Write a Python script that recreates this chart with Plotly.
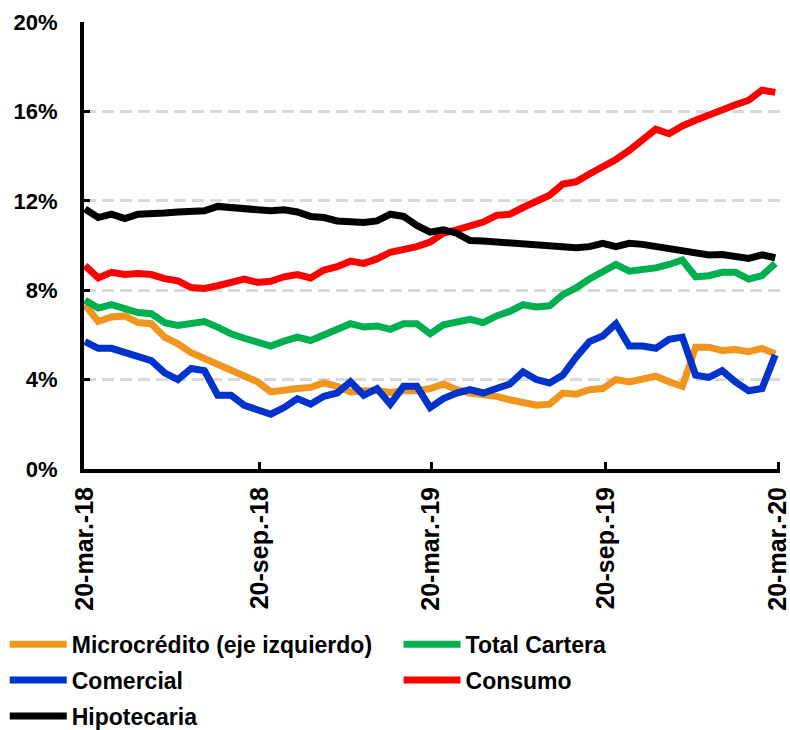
import pandas as pd
import plotly.graph_objects as go

# Biweekly observation dates, 20-mar-2018 .. 17-mar-2020
dates = pd.date_range("2018-03-20", periods=53, freq="14D")

microcredito = [7.35, 6.6, 6.8, 6.85, 6.55, 6.5, 5.9, 5.6, 5.2, 4.95, 4.7, 4.4, 4.15, 3.9,
                3.45, 3.55, 3.6, 3.65, 3.85, 3.7, 3.45, 3.5, 3.5, 3.42, 3.5, 3.5, 3.6,
                3.8, 3.55, 3.4, 3.35, 3.25, 3.1, 3.0, 2.85, 2.9, 3.4, 3.35, 3.55,
                3.6, 4.0, 3.9, 4.05, 4.15, 3.9, 3.7, 5.45, 5.45, 5.3, 5.35, 5.25, 5.4, 5.15]
total_cartera = [7.55, 7.2, 7.35, 7.2, 7.0, 6.95, 6.55, 6.42, 6.55, 6.6, 6.35, 6.05, 5.85, 5.65,
                 5.5, 5.72, 5.9, 5.75, 5.98, 6.2, 6.5, 6.35, 6.4, 6.25, 6.5, 6.5, 6.05,
                 6.45, 6.6, 6.7, 6.55, 6.85, 7.05, 7.35, 7.25, 7.3, 7.8, 8.1, 8.5,
                 8.8, 9.15, 8.85, 8.9, 9.0, 9.15, 9.35, 8.6, 8.65, 8.8, 8.8, 8.5, 8.65, 9.2]
comercial = [5.7, 5.4, 5.4, 5.2, 5.0, 4.85, 4.3, 4.0, 4.5, 4.4, 3.3, 3.3, 2.85, 2.65,
             2.45, 2.75, 3.15, 2.9, 3.25, 3.4, 3.9, 3.3, 3.6, 2.9, 3.7, 3.7, 2.75,
             3.15, 3.4, 3.55, 3.4, 3.6, 3.8, 4.35, 4.0, 3.85, 4.2, 5.0, 5.7,
             5.95, 6.5, 5.5, 5.5, 5.4, 5.8, 5.9, 4.2, 4.1, 4.4, 3.9, 3.5, 3.6, 5.1]
consumo = [9.1, 8.55, 8.8, 8.7, 8.75, 8.7, 8.52, 8.42, 8.12, 8.08, 8.2, 8.32, 8.5, 8.35,
           8.4, 8.6, 8.7, 8.55, 8.9, 9.05, 9.3, 9.2, 9.4, 9.7, 9.8, 9.95, 10.15,
           10.55, 10.7, 10.9, 11.05, 11.35, 11.4, 11.7, 12.0, 12.25, 12.75, 12.85, 13.2,
           13.5, 13.85, 14.25, 14.75, 15.2, 15.0, 15.35, 15.6, 15.85, 16.05, 16.3, 16.5, 16.95, 16.85]
hipotecaria = [11.63, 11.25, 11.4, 11.2, 11.4, 11.4, 11.45, 11.5, 11.55, 11.55, 11.75, 11.7, 11.7, 11.65,
               11.55, 11.6, 11.5, 11.3, 11.25, 11.1, 11.03, 11.03, 11.1, 11.4, 11.3, 10.9, 10.6,
               10.7, 10.55, 10.22, 10.2, 10.15, 10.1, 10.06, 10.0, 9.97, 9.95, 9.9, 9.95,
               10.1, 9.95, 10.1, 10.05, 9.95, 9.85, 9.78, 9.65, 9.58, 9.6, 9.52, 9.42, 9.58, 9.45]

# (name, values, colour, legend column)
series = [
    ("Microcrédito (eje izquierdo)", microcredito, "#F0961E", "legend"),
    ("Total Cartera", total_cartera, "#00B050", "legend2"),
    ("Comercial", comercial, "#0033CC", "legend"),
    ("Consumo", consumo, "#FF0000", "legend2"),
    ("Hipotecaria", hipotecaria, "#000000", "legend"),
]

tick_dates = ["2018-03-20", "2018-09-20", "2019-03-20", "2019-09-20", "2020-03-20"]
tick_labels = ["20-mar.-18", "20-sep.-18", "20-mar.-19", "20-sep.-19", "20-mar.-20"]
y_ticks = [0, 4, 8, 12, 16, 20]
y_labels = [f"{v}%" for v in y_ticks]

font_family = "Liberation Sans, Arial, sans-serif"
legend_font = dict(size=23, family=font_family, color="black", weight="bold")

fig = go.Figure()
for name, values, color, legend_id in series:
    fig.add_trace(go.Scatter(
        x=dates, y=values, name=name, mode="lines",
        line=dict(color=color, width=7),
        legend=legend_id, legendgroup=name,
    ))

legend_common = dict(
    orientation="v",
    xref="container", yref="container",
    xanchor="left", yanchor="top",
    y=0.147,
    itemwidth=57,
    font=legend_font,
    bgcolor="rgba(0,0,0,0)",
    tracegroupgap=3,
)

fig.update_layout(
    width=790, height=730,
    margin=dict(l=84, r=10, t=22, b=261, autoexpand=False),
    paper_bgcolor="white", plot_bgcolor="white",
    font=dict(family=font_family, color="black"),
    showlegend=True,
    legend=dict(x=0.006, **legend_common),
    legend2=dict(x=0.5045, **legend_common),
)

fig.update_xaxes(
    range=["2018-03-19", "2020-03-22"],
    tickmode="array", tickvals=tick_dates, ticktext=tick_labels,
    tickangle=-90,
    tickfont=dict(size=25, family=font_family, color="black", weight="bold"),
    ticks="inside", ticklen=7, tickwidth=3, tickcolor="black",
    ticklabelstandoff=4, ticklabeloverflow="allow",
    showline=True, linecolor="black", linewidth=4,
    showgrid=False, zeroline=False,
)

fig.update_yaxes(
    range=[0, 20],
    tickmode="array", tickvals=y_ticks, ticktext=y_labels,
    tickfont=dict(size=22, family=font_family, color="black", weight="bold"),
    ticks="inside", ticklen=6, tickwidth=3, tickcolor="black",
    ticklabelstandoff=18,
    showline=True, linecolor="black", linewidth=4,
    showgrid=True, gridcolor="#D9D9D9", gridwidth=3, griddash="12px,6px",
    zeroline=False,
)

fig.write_html("out.html")
